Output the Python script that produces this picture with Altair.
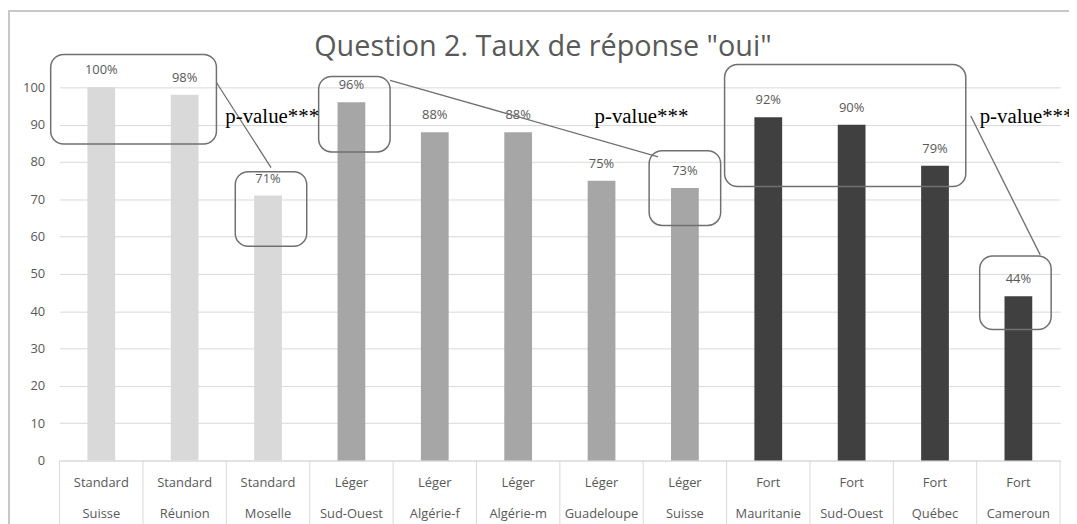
import altair as alt
import pandas as pd

# ---- data ----
title_text = 'Question 2. Taux de réponse "oui"'
groups = ["Standard"] * 3 + ["Léger"] * 5 + ["Fort"] * 4
names = ["Suisse", "Réunion", "Moselle", "Sud-Ouest", "Algérie-f", "Algérie-m",
         "Guadeloupe", "Suisse", "Mauritanie", "Sud-Ouest", "Québec", "Cameroun"]
values = [100, 98, 71, 96, 88, 88, 75, 73, 92, 90, 79, 44]
group_order = ["Standard", "Léger", "Fort"]
group_colors = ["#D9D9D9", "#A6A6A6", "#404040"]

# annotation boxes (x in category-index units, y in %)
box_x = [-0.107, 2.107, 3.107, 7.071, 7.976, 11.036]
box_x2 = [1.881, 2.964, 3.964, 7.929, 10.869, 11.893]
box_y = [108.8, 77.4, 102.9, 83.0, 106.1, 54.8]
box_y2 = [84.8, 57.4, 82.7, 63.0, 73.4, 35.1]

link_x = [1.881, 3.964, 10.929]
link_y = [101.3, 101.9, 92.3]
link_x2 = [2.536, 7.179, 11.762]
link_y2 = [78.5, 81.4, 55.1]

pval_text = ["p-value***", "p-value***", "p-value***"]
pval_x = [1.988, 6.417, 11.036]
pval_y = [90.4, 90.4, 90.4]

cell_bounds = list(range(13))

W, H = 1008, 376
FONT = "Open Sans"
TXT = "#595959"

df = pd.DataFrame({
    "cat": [f"{g}|{n}" for g, n in zip(groups, names)],
    "group": groups,
    "value": values,
    "label": [f"{v}%" for v in values],
})
cat_order = list(df["cat"])

yscale = alt.Scale(domain=[0, 100], nice=False, zero=True)
qx = alt.Scale(domain=[0, 12], nice=False, zero=False)

base = alt.Chart(df).encode(
    x=alt.X("cat:N", sort=cat_order,
            scale=alt.Scale(paddingInner=0.667, paddingOuter=0.3335),
            axis=alt.Axis(title=None, labelExpr="split(datum.value, '|')", labelAngle=0,
                          ticks=False, tickSize=0, domain=True, domainColor="#D9D9D9",
                          labelLineHeight=31, labelFont=FONT, labelFontSize=13,
                          labelColor=TXT, labelPadding=16, labelBaseline="top",
                          labelLimit=200, grid=False)),
    y=alt.Y("value:Q", scale=yscale,
            axis=alt.Axis(title=None, values=list(range(0, 101, 10)), domain=False,
                          ticks=False, tickSize=0, labelPadding=15, labelFont=FONT,
                          labelFontSize=13, labelColor=TXT, gridColor="#D9D9D9",
                          gridWidth=1)),
)

bars = base.mark_bar().encode(
    color=alt.Color("group:N", scale=alt.Scale(domain=group_order, range=group_colors),
                    legend=None)
)
labels = base.mark_text(dy=-13, baseline="alphabetic", fontSize=13, font=FONT,
                        color=TXT).encode(text="label:N")

main = alt.layer(bars, labels)

boxes_df = pd.DataFrame({"x": box_x, "x2": box_x2, "y": box_y, "y2": box_y2})
links_df = pd.DataFrame({"x": link_x, "x2": link_x2, "y": link_y, "y2": link_y2})
pval_df = pd.DataFrame({"x": pval_x, "y": pval_y, "t": pval_text})
cells_df = pd.DataFrame({"b": cell_bounds})

boxes = alt.Chart(boxes_df).mark_rect(cornerRadius=13, fillOpacity=0, stroke="#707070",
                                      strokeWidth=1.5).encode(
    x=alt.X("x:Q", scale=qx, axis=None), x2="x2:Q",
    y=alt.Y("y:Q", scale=yscale, axis=None), y2="y2:Q")
links = alt.Chart(links_df).mark_rule(color="#707070", strokeWidth=1.3).encode(
    x=alt.X("x:Q", scale=qx, axis=None), x2="x2:Q",
    y=alt.Y("y:Q", scale=yscale, axis=None), y2="y2:Q")
pvals = alt.Chart(pval_df).mark_text(align="left", baseline="alphabetic", fontSize=21,
                                     font="Liberation Serif", color="#000000").encode(
    x=alt.X("x:Q", scale=qx, axis=None), y=alt.Y("y:Q", scale=yscale, axis=None),
    text="t:N")
cells = alt.Chart(cells_df).mark_rule(color="#D9D9D9", strokeWidth=1).encode(
    x=alt.X("b:Q", scale=qx, axis=None), y=alt.value(H), y2=alt.value(H + 90))
frame = alt.Chart(pd.DataFrame({"k": [0]})).mark_rect(
    fillOpacity=0, stroke="#C8C8C8", strokeWidth=2).encode(
    x=alt.value(-51), x2=alt.value(W + 40), y=alt.value(-77), y2=alt.value(H + 120))
title = alt.Chart(pd.DataFrame({"t": [title_text]})).mark_text(
    font=FONT, fontSize=29, color=TXT, align="center", baseline="alphabetic").encode(
    text="t:N", x=alt.value(W / 2 - 17), y=alt.value(-32))

annot = alt.layer(cells, boxes, links, pvals, frame, title)

chart = alt.layer(main, annot).resolve_scale(x="independent", y="independent").properties(
    width=W, height=H,
    autosize=alt.AutoSizeParams(type="none"),
    padding={"left": 52, "top": 78, "right": 9, "bottom": 62},
).configure_view(stroke=None)

chart.save("out.html", embed_options={"renderer": "svg", "actions": False})
